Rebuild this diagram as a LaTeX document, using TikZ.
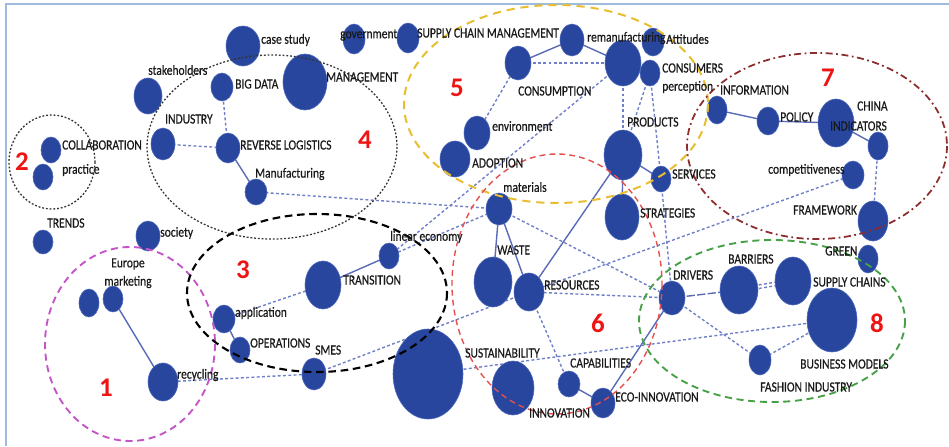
\documentclass[tikz,border=0pt]{standalone}
\usepackage{fontspec}
\setmainfont{Carlito}[FakeStretch=0.82,FakeBold=0.5]
\newfontfamily\grpfont{Carlito}
\usetikzlibrary{positioning,backgrounds}
\definecolor{kwblue}{RGB}{40,70,158}
\definecolor{kwrim}{RGB}{78,104,188}
\definecolor{kwedge}{RGB}{112,128,200}
\definecolor{kwtie}{RGB}{90,106,184}
\definecolor{grpred}{RGB}{238,20,20}
\definecolor{cmag}{RGB}{196,84,200}
\definecolor{cyel}{RGB}{232,190,48}
\definecolor{cred}{RGB}{228,80,80}
\definecolor{cdred}{RGB}{140,44,44}
\definecolor{cgreen}{RGB}{70,160,70}
\definecolor{framecol}{RGB}{158,186,220}

\tikzset{
  kw/.style={fill=kwblue, draw=kwrim, line width=0.5pt},
  lbl/.style={anchor=west, inner sep=0pt, text=black!90, font=\fontsize{12}{12}\selectfont},
  link/.style={draw=kwedge, line width=1.2pt, dash pattern=on 2.5pt off 2pt},
  tie/.style={draw=kwtie, line width=1.2pt},
  grpnum/.style={inner sep=0pt, text=grpred, font=\grpfont\bfseries\fontsize{23}{23}\selectfont},
}

\begin{document}
\begin{tikzpicture}[x=0.03cm, y=-0.03cm]
		\useasboundingbox (0,0) rectangle (949,446);
		\draw[framecol, line width=2pt] (6,446) -- (6,4) -- (949,4);
		% keyword nodes
		\fill[kw] (243,46) node (casestudy){} ellipse (17 and 20);
		\fill[kw] (305,82) node (management){} ellipse (22 and 28);
		\fill[kw] (148,96) node (stakeholders){} ellipse (14 and 18);
		\fill[kw] (222,87) node (bigdata){} ellipse (11 and 14);
		\fill[kw] (163,144) node (industry){} ellipse (12 and 16);
		\fill[kw] (228,148) node (revlog){} ellipse (12 and 15);
		\fill[kw] (256,192) node (manufacturing){} ellipse (11 and 13);
		\fill[kw] (51,150) node (collab){} ellipse (10 and 13);
		\fill[kw] (43,177) node (practice){} ellipse (10 and 13);
		\fill[kw] (43,242) node (trends){} ellipse (10 and 12);
		\fill[kw] (148,236) node (society){} ellipse (12 and 15);
		\fill[kw] (89,303) node (europe){} ellipse (10 and 14);
		\fill[kw] (113,299) node (marketing){} ellipse (10 and 13);
		\fill[kw] (163,382) node (recycling){} ellipse (15 and 19);
		\fill[kw] (224,319) node (application){} ellipse (11 and 14);
		\fill[kw] (240,350) node (operations){} ellipse (10 and 13);
		\fill[kw] (314,374) node (smes){} ellipse (12 and 16);
		\fill[kw] (323,285) node (transition){} ellipse (18 and 24);
		\fill[kw] (389,256) node (lineareco){} ellipse (10 and 13);
		\fill[kw] (428,374) node (sustainability){} ellipse (35 and 45);
		\fill[kw] (513,388) node (innovation){} ellipse (21 and 27);
		\fill[kw] (569,384) node (capabilities){} ellipse (11 and 13);
		\fill[kw] (603,403) node (ecoinnov){} ellipse (12 and 15);
		\fill[kw] (493,282) node (waste){} ellipse (19 and 25);
		\fill[kw] (529,292) node (resources){} ellipse (15 and 19);
		\fill[kw] (499,209) node (materials){} ellipse (13 and 16);
		\fill[kw] (455,159) node (adoption){} ellipse (15 and 18);
		\fill[kw] (477,133) node (environment){} ellipse (13 and 17);
		\fill[kw] (518,63) node (consumption){} ellipse (13 and 17);
		\fill[kw] (354,39) node (government){} ellipse (11 and 15);
		\fill[kw] (408,38) node (scm){} ellipse (11 and 15);
		\fill[kw] (572,40) node (remanuf){} ellipse (12 and 16);
		\fill[kw] (623,63) node (hub){} ellipse (18 and 23);
		\fill[kw] (653,42) node (attitudes){} ellipse (11 and 14);
		\fill[kw] (650,73) node (consumers){} ellipse (10 and 13);
		\fill[kw] (623,155) node (products){} ellipse (19 and 25);
		\fill[kw] (661,179) node (services){} ellipse (10 and 13);
		\fill[kw] (622,217) node (strategies){} ellipse (17 and 23);
		\fill[kw] (717,110) node (information){} ellipse (10 and 14);
		\fill[kw] (768,121) node (policy){} ellipse (11 and 14);
		\fill[kw] (836,123) node (china){} ellipse (18 and 24);
		\fill[kw] (878,146) node (indicators){} ellipse (10 and 14);
		\fill[kw] (853,175) node (competitive){} ellipse (11 and 14);
		\fill[kw] (873,221) node (framework){} ellipse (15 and 20);
		\fill[kw] (868,259) node (green){} ellipse (10 and 14);
		\fill[kw] (793,281) node (supplychains){} ellipse (18 and 24);
		\fill[kw] (739,290) node (barriers){} ellipse (19 and 24);
		\fill[kw] (672,298) node (drivers){} ellipse (13 and 17);
		\fill[kw] (832,320) node (bizmodels){} ellipse (25 and 32);
		\fill[kw] (760,360) node (fashion){} ellipse (11 and 15);
		% links
		\begin{scope}[on background layer]
		\draw[tie] (marketing)--(recycling);
		\draw[tie] (revlog)--(manufacturing);
		\draw[tie] (application)--(operations);
		\draw[tie] (transition)--(lineareco);
		\draw[tie] (consumption)--(remanuf);
		\draw[tie] (remanuf)--(hub);
		\draw[tie] (products)--(services);
		\draw[tie] (products)--(strategies);
		\draw[tie] (resources)--(products);
		\draw[tie] (materials)--(waste);
		\draw[tie] (materials)--(resources);
		\draw[tie] (capabilities)--(ecoinnov);
		\draw[tie] (ecoinnov)--(drivers);
		\draw[tie, dash pattern=on 7pt off 2pt] (drivers)--(barriers);
		\draw[tie] (information)--(policy);
		\draw[tie] (policy)--(china);
		\draw[tie] (china)--(indicators);
		\draw[link] (bigdata)--(revlog);
		\draw[link] (industry)--(revlog);
		\draw[link] (manufacturing)--(materials);
		\draw[link] (recycling)--(smes);
		\draw[link] (application)--(transition);
		\draw[link] (lineareco)--(materials);
		\draw[link] (hub)--(lineareco);
		\draw[link] (consumption)--(hub);
		\draw[link] (consumption)--(environment);
		\draw[link] (hub)--(products);
		\draw[link] (consumers)--(products);
		\draw[link] (consumers)--(services);
		\draw[link] (services)--(drivers);
		\draw[link] (materials)--(drivers);
		\draw[link] (resources)--(drivers);
		\draw[link] (resources)--(capabilities);
		\draw[link] (resources)--(competitive);
		\draw[link] (smes)--(resources);
		\draw[link] (sustainability)--(bizmodels);
		\draw[link, transform canvas={yshift=1.5pt}] (barriers)--(supplychains);
		\draw[link, transform canvas={yshift=-1.5pt}] (barriers)--(supplychains);
		\draw[link] (drivers)--(fashion);
		\draw[link] (fashion)--(bizmodels);
		\draw[link] (indicators)--(framework);
		\end{scope}
		% clusters
		\draw[cmag, line width=1.6pt, dash pattern=on 6pt off 4pt] (130,344) ellipse (85 and 97);
		\draw[black!80, line width=1.1pt, dash pattern=on 1.6pt off 1.6pt] (52,162) ellipse (43 and 47);
		\draw[black, line width=1.8pt, dash pattern=on 6.5pt off 4pt] (317,293) ellipse (130 and 79);
		\draw[black!80, line width=1.1pt, dash pattern=on 1.6pt off 1.6pt] (272,147) ellipse (125 and 92);
		\draw[cyel, line width=1.7pt, dash pattern=on 7pt off 5pt] (556,104) ellipse (152 and 99);
		\draw[cred, line width=1.2pt, dash pattern=on 5pt off 3.5pt] (557,284) ellipse (105 and 130);
		\draw[cdred, line width=1.5pt, dash pattern=on 6pt off 3pt on 1.5pt off 3pt] (817,146) ellipse (130 and 93);
		\draw[cgreen, line width=1.6pt, dash pattern=on 6pt off 4pt] (772,321) ellipse (133 and 81);
		\node[grpnum] (n1) at (106,388) {1};
		\node[grpnum] (n2) at (22,162) {2};
		\node[grpnum] (n3) at (243,270) {3};
		\node[grpnum] (n4) at (365,140) {4};
		\node[grpnum] (n5) at (457,88) {5};
		\node[grpnum] (n6) at (598,323) {6};
		\node[grpnum] (n7) at (828,78) {7};
		\node[grpnum] (n8) at (877,323) {8};
		% labels
		\node[lbl] (tcasestudy) at (261,40) {case study};
		\node[lbl] (tmanagement) at (326,77) {MANAGEMENT};
		\node[lbl] (tstakeholders) at (148,70) {stakeholders};
		\node[lbl] (tbigdata) at (235,84) {BIG DATA};
		\node[lbl] (tindustry) at (165,119) {INDUSTRY};
		\node[lbl] (trevlog) at (240,145) {REVERSE LOGISTICS};
		\node[lbl] (tmanufacturing) at (255,174) {Manufacturing};
		\node[lbl] (tcollab) at (62,145) {COLLABORATION};
		\node[lbl] (tpractice) at (62,170) {practice};
		\node[lbl] (ttrends) at (47,223) {TRENDS};
		\node[lbl] (tsociety) at (160,233) {society};
		\node[lbl, anchor=center] (teurope) at (128,264) {Europe};
		\node[lbl, anchor=center] (tmarketing) at (128,282) {marketing};
		\node[lbl] (trecycling) at (177,375) {recycling};
		\node[lbl] (tapplication) at (235,313) {application};
		\node[lbl] (toperations) at (250,343) {OPERATIONS};
		\node[lbl] (tsmes) at (315,350) {SMES};
		\node[lbl] (ttransition) at (343,280) {TRANSITION};
		\node[lbl] (tlineareco) at (390,237) {linear economy};
		\node[lbl] (tsustainability) at (465,353) {SUSTAINABILITY};
		\node[lbl] (tinnovation) at (529,413) {INNOVATION};
		\node[lbl] (tcapabilities) at (570,363) {CAPABILITIES};
		\node[lbl] (tecoinnov) at (615,397) {ECO-INNOVATION};
		\node[lbl] (twaste) at (497,250) {WASTE};
		\node[lbl] (tresources) at (544,285) {RESOURCES};
		\node[lbl] (tmaterials) at (503,187) {materials};
		\node[lbl] (tadoption) at (472,163) {ADOPTION};
		\node[lbl] (tenvironment) at (492,126) {environment};
		\node[lbl] (tconsumption) at (518,91) {CONSUMPTION};
		\node[lbl] (tgovernment) at (340,35) {government};
		\node[lbl] (tscm) at (417,33) {SUPPLY CHAIN MANAGEMENT};
		\node[lbl] (tremanuf) at (587,38) {remanufacturing};
		\node[lbl] (tattitudes) at (666,39) {Attitudes};
		\node[lbl] (tconsumers) at (662,68) {CONSUMERS};
		\node[lbl] (tperception) at (662,87) {perception};
		\node[lbl] (tproducts) at (627,122) {PRODUCTS};
		\node[lbl] (tservices) at (672,174) {SERVICES};
		\node[lbl] (tstrategies) at (640,213) {STRATEGIES};
		\node[lbl] (tinformation) at (720,90) {INFORMATION};
		\node[lbl] (tpolicy) at (780,117) {POLICY};
		\node[lbl] (tchina) at (857,106) {CHINA};
		\node[lbl] (tindicators) at (830,126) {INDICATORS};
		\node[lbl] (tcompetitive) at (768,170) {competitiveness};
		\node[lbl] (tframework) at (793,210) {FRAMEWORK};
		\node[lbl] (tgreen) at (825,251) {GREEN};
		\node[lbl] (tsupplychains) at (813,282) {SUPPLY CHAINS};
		\node[lbl] (tbarriers) at (728,259) {BARRIERS};
		\node[lbl] (tdrivers) at (673,275) {DRIVERS};
		\node[lbl] (tbizmodels) at (800,364) {BUSINESS MODELS};
		\node[lbl] (tfashion) at (760,387) {FASHION INDUSTRY};
		\end{tikzpicture}
\end{document}
